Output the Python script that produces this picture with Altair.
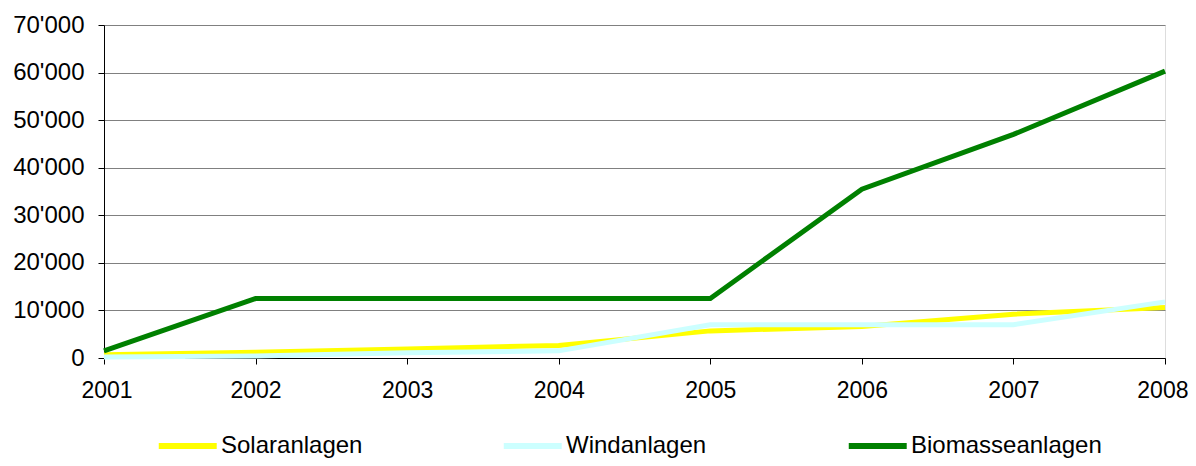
import altair as alt
import pandas as pd

years = ["2001", "2002", "2003", "2004", "2005", "2006", "2007", "2008"]
solar = [700, 1200, 1900, 2650, 5700, 6600, 9200, 10600]
wind = [200, 400, 1100, 1500, 7000, 7000, 7000, 11800]
biomass = [1500, 12500, 12500, 12500, 12500, 35500, 47000, 60300]
series_names = ["Solaranlagen", "Windanlagen", "Biomasseanlagen"]
series_colors = ["#FFFF00", "#CCFFFF", "#008000"]

rows = []
for name, vals in zip(series_names, [solar, wind, biomass]):
    for y, v in zip(years, vals):
        rows.append({"Jahr": y, "Wert": v, "Serie": name})
df = pd.DataFrame(rows)

FONT = "Liberation Sans"

chart = (
    alt.Chart(df)
    .mark_line(strokeWidth=5)
    .encode(
        x=alt.X(
            "Jahr:O",
            sort=years,
            scale=alt.Scale(type="point", padding=0),
            axis=alt.Axis(
                title=None,
                labelAngle=0,
                labelFontSize=23,
                labelFont=FONT,
                labelColor="black",
                labelPadding=15,
                labelFlush=True,
                labelFlushOffset=23,
                tickSize=6,
                tickColor="black",
                domainColor="black",
                grid=False,
            ),
        ),
        y=alt.Y(
            "Wert:Q",
            scale=alt.Scale(domain=[0, 70000], nice=False),
            axis=alt.Axis(
                title=None,
                values=[0, 10000, 20000, 30000, 40000, 50000, 60000, 70000],
                labelExpr="replace(format(datum.value, ',d'), ',', \"'\")",
                labelFontSize=24,
                labelFont=FONT,
                labelColor="black",
                labelPadding=14,
                tickSize=6,
                tickColor="black",
                domainColor="black",
                gridColor="#808080",
                gridWidth=1,
                gridOpacity=1,
            ),
        ),
        color=alt.Color(
            "Serie:N",
            sort=series_names,
            scale=alt.Scale(domain=series_names, range=series_colors),
            legend=alt.Legend(
                title=None,
                orient="none",
                legendX=50,
                legendY=409,
                direction="horizontal",
                columns=3,
                gridAlign="all",
                columnPadding=79,
                padding=0,
                symbolType="M-1,0H7",
                symbolSize=210,
                symbolStrokeWidth=6,
                labelFontSize=24,
                labelFont=FONT,
                labelColor="black",
                labelOffset=43,
                labelLimit=400,
            ),
        ),
        order=alt.Order("Serie:N"),
    )
    .properties(
        width=1061,
        height=333,
        autosize=alt.AutoSizeParams(type="none"),
        padding={"left": 96, "top": 17, "right": 23, "bottom": 100},
    )
    .configure_view(stroke="black", strokeWidth=1)
    .configure(background="white")
)

chart.save("out.html", embed_options={"renderer": "svg", "actions": False})
